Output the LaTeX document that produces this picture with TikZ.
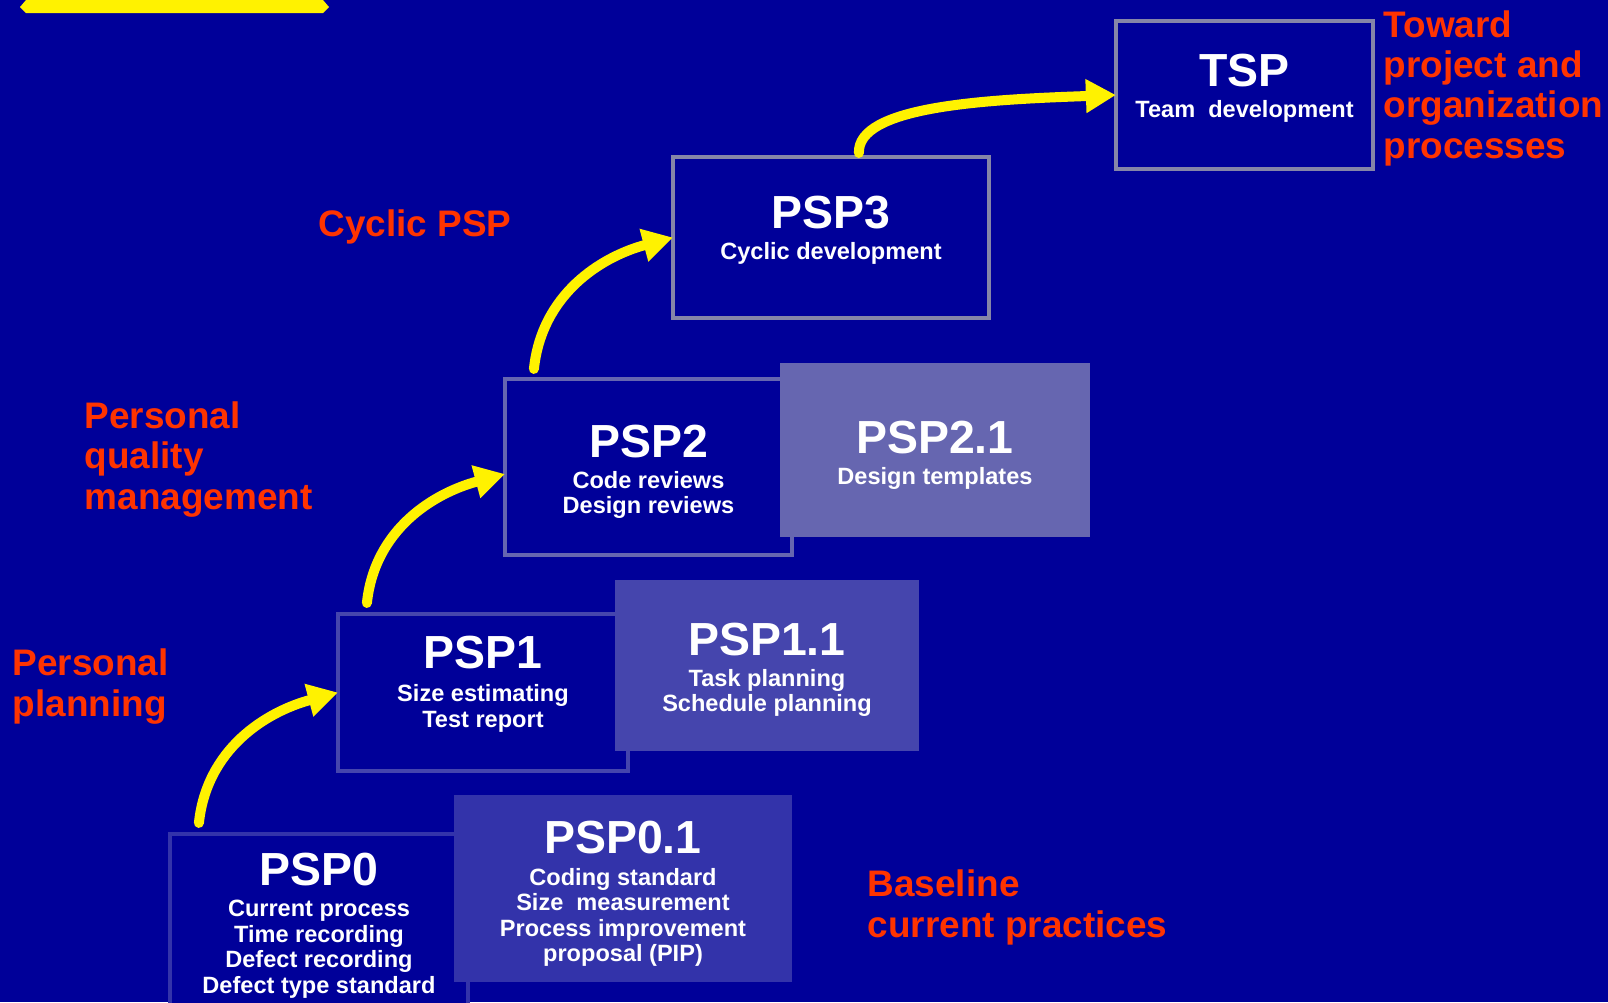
\documentclass[tikz,border=0pt]{standalone}
\usepackage{fontspec}
\setmainfont{Liberation Sans}
\usetikzlibrary{positioning, arrows.meta}

\definecolor{bg}{HTML}{000099}
\definecolor{tone0}{HTML}{3333AA}
\definecolor{tone1}{HTML}{4545AD}
\definecolor{tone2}{HTML}{6666B0}
\definecolor{tone3}{HTML}{8585A8}
\definecolor{hint}{HTML}{FF3300}

\begin{document}
\begin{tikzpicture}[x=0.01cm, y=-0.01cm,
    stage/.style={rectangle, draw, line width=0.04cm, fill=bg, inner sep=0pt, outer sep=0pt},
    extra/.style={rectangle, inner sep=0pt, outer sep=0pt},
    title/.style={text=white, font=\bfseries\fontsize{13.2pt}{15pt}\selectfont, inner sep=0pt, anchor=base},
    items/.style={text=white, font=\bfseries\fontsize{6.7pt}{7.25pt}\selectfont, inner sep=0pt, anchor=base, align=center},
    phase/.style={text=hint, font=\bfseries\fontsize{10.5pt}{11.4pt}\selectfont, inner sep=0pt, anchor=base west, align=left},
    climb/.style={draw=yellow, line width=0.1cm, line cap=round, -{Triangle[length=0.3cm, width=0.32cm]}}]

    \fill[bg] (0,0) rectangle (1608,1002);
    \useasboundingbox (0,0) rectangle (1608,1002);
    \fill[yellow] (20,7) -- (26,0) -- (323,0) -- (329,7) -- (323,13) -- (26,13) -- cycle;

    % levels
    \node[stage, draw=tone0, minimum width=2.98cm, minimum height=1.8cm] (psp0) at (319,924) {};
    \node[extra, fill=tone0, minimum width=3.38cm, minimum height=1.87cm] (psp01) at (623,888.5) {};
    \node[stage, draw=tone1, minimum width=2.9cm, minimum height=1.57cm] (psp1) at (483,692.5) {};
    \node[extra, fill=tone1, minimum width=3.04cm, minimum height=1.71cm] (psp11) at (767,665.5) {};
    \node[stage, draw=tone2, minimum width=2.87cm, minimum height=1.76cm] (psp2) at (648.5,467) {};
    \node[extra, fill=tone2, minimum width=3.1cm, minimum height=1.74cm] (psp21) at (935,450) {};
    \node[stage, draw=tone3, minimum width=3.16cm, minimum height=1.61cm] (psp3) at (831,237.5) {};
    \node[stage, draw=tone3, minimum width=2.57cm, minimum height=1.48cm] (tsp) at (1244.5,95) {};

    % texts, multi-line ones placed at their last baseline
    \node[title] (t0) at (319,885) {PSP0};
    \node[items] (i0) at (319,993) {Current process\\Time recording\\Defect recording\\Defect type standard};
    \node[title] (t01) at (623,853) {PSP0.1};
    \node[items] (i01) at (623,961.5) {Coding standard\\Size\ \ measurement\\Process improvement\\proposal (PIP)};
    \node[title] (t1) at (483,668) {PSP1};
    \node[items] (i1) at (483,727) {Size estimating\\Test report};
    \node[title] (t11) at (767,655) {PSP1.1};
    \node[items] (i11) at (767,711.5) {Task planning\\Schedule planning};
    \node[title] (t2) at (648.5,457) {PSP2};
    \node[items] (i2) at (648.5,513.5) {Code reviews\\Design reviews};
    \node[title] (t21) at (935,453) {PSP2.1};
    \node[items] (i21) at (935,484) {Design templates};
    \node[title] (t3) at (831,228) {PSP3};
    \node[items] (i3) at (831,259) {Cyclic development};
    \node[title] (tt) at (1244.5,86) {TSP};
    \node[items] (it) at (1244.5,117) {Team\ \ development};

    % phases
    \node[phase] (toward) at (1383,158) {Toward\\project and\\organization\\processes};
    \node[phase] (cyclic) at (318,236) {Cyclic PSP};
    \node[phase] (quality) at (84,509) {Personal\\quality\\management};
    \node[phase] (planning) at (12,716) {Personal\\planning};
    \node[phase] (baseline) at (867,937) {Baseline\\current practices};

    \draw[climb] ([shift={(29,-11)}]psp0.north west) to[out=84, in=195] (psp1.west);
    \draw[climb] ([shift={(29,-11)}]psp1.north west) to[out=84, in=195] ([yshift=-0.07cm]psp2.west);
    \draw[climb] ([shift={(29,-10)}]psp2.north west) to[out=84, in=195] (psp3.west);
    \draw[climb] ([shift={(186,-4)}]psp3.north west) to[out=92, in=182, out looseness=0.45, in looseness=1.3] (tsp.west);
\end{tikzpicture}
\end{document}
